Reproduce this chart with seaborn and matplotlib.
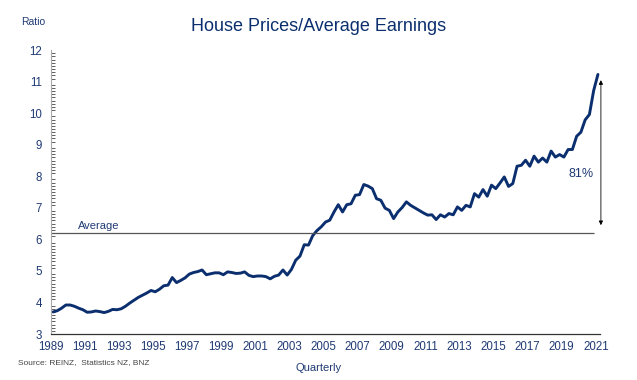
import numpy as np
import pandas as pd
import matplotlib
matplotlib.use("Agg")
import matplotlib.pyplot as plt
from matplotlib.ticker import MultipleLocator
import seaborn as sns

# quarterly house price / average earnings ratio, 1989 - 2021
ratio = [
    3.70, 3.74, 3.82, 3.92,  3.92, 3.88, 3.82, 3.77,   # 1989, 1990
    3.69, 3.70, 3.73, 3.71,  3.68, 3.72, 3.78, 3.77,   # 1991, 1992
    3.80, 3.88, 3.98, 4.07,  4.16, 4.23, 4.30, 4.38,   # 1993, 1994
    4.34, 4.42, 4.53, 4.55,  4.79, 4.63, 4.70, 4.78,   # 1995, 1996
    4.90, 4.95, 4.98, 5.03,  4.88, 4.91, 4.94, 4.94,   # 1997, 1998
    4.88, 4.97, 4.95, 4.92,  4.93, 4.97, 4.86, 4.82,   # 1999, 2000
    4.84, 4.84, 4.82, 4.75,  4.83, 4.87, 5.03, 4.87,   # 2001, 2002
    5.05, 5.34, 5.47, 5.83,  5.82, 6.12, 6.28, 6.40,   # 2003, 2004
    6.55, 6.61, 6.87, 7.10,  6.87, 7.10, 7.13, 7.40,   # 2005, 2006
    7.42, 7.74, 7.69, 7.61,  7.29, 7.24, 6.99, 6.92,   # 2007, 2008
    6.66, 6.87, 7.01, 7.19,  7.08, 7.00, 6.92, 6.84,   # 2009, 2010
    6.77, 6.78, 6.63, 6.78,  6.71, 6.82, 6.78, 7.03,   # 2011, 2012
    6.92, 7.08, 7.03, 7.45,  7.34, 7.58, 7.37, 7.72,   # 2013, 2014
    7.61, 7.79, 7.98, 7.68,  7.77, 8.32, 8.35, 8.51,   # 2015, 2016
    8.32, 8.64, 8.45, 8.58,  8.45, 8.80, 8.61, 8.69,   # 2017, 2018
    8.61, 8.85, 8.85, 9.27,  9.40, 9.79, 9.96, 10.72,  # 2019, 2020
    11.23,                                              # 2021
]
years = 1989.125 + 0.25 * np.arange(len(ratio))
average = 6.2
arrow_low, arrow_high = 6.45, 11.05
year_ticks = list(range(1989, 2022, 2))

df = pd.DataFrame({"year": years, "ratio": ratio})

navy = "#0b2f6e"
text_navy = "#1f3a73"

sns.set_theme(style="white")
plt.rcParams["font.family"] = ["Liberation Sans", "DejaVu Sans"]

fig = plt.figure(figsize=(6.37, 3.80), dpi=100)
ax = fig.add_axes([0.080, 0.121, 0.862, 0.747])

sns.lineplot(data=df, x="year", y="ratio", ax=ax, color=navy, linewidth=2.1)

# long-run average line
ax.hlines(average, 1989, 2020.9, color="#555555", linewidth=0.9)
ax.text(1990.6, average + 0.08, "Average", color=text_navy, fontsize=8,
        ha="left", va="bottom")

# arrow showing distance from average
ax.annotate("", xy=(2021.3, arrow_high), xytext=(2021.3, arrow_low),
            arrowprops=dict(arrowstyle="<|-|>", color="black", lw=0.6,
                            mutation_scale=6, shrinkA=0, shrinkB=0),
            annotation_clip=False)
ax.text(2020.9, 8.06, "81%", color=text_navy, fontsize=9, ha="right", va="center")

ax.set_xlim(1989, 2021.25)
ax.set_ylim(3, 12)
ax.set_xticks(year_ticks)
ax.set_xticklabels([str(y) for y in year_ticks])
ax.yaxis.set_major_locator(MultipleLocator(1))
ax.yaxis.set_minor_locator(MultipleLocator(0.1))

ax.tick_params(axis="y", which="major", direction="inout", length=5, width=0.8,
               color="#333333", labelsize=8.3, labelcolor=text_navy, pad=4)
ax.tick_params(axis="y", which="minor", direction="in", length=3, width=0.6,
               color="#444444", left=True)
ax.tick_params(axis="x", which="major", direction="out", length=3, width=0.8,
               color="#333333", labelsize=8.3, labelcolor=text_navy, pad=2)
ax.tick_params(axis="x", which="minor", bottom=False)

for side in ["top", "right"]:
    ax.spines[side].set_visible(False)
ax.spines["left"].set_color("#aaaaaa")
ax.spines["left"].set_linewidth(0.8)
ax.spines["bottom"].set_color("#333333")
ax.spines["bottom"].set_linewidth(0.9)

ax.set_xlabel("")
ax.set_ylabel("")

fig.text(0.5, 0.930, "House Prices/Average Earnings", color=navy, fontsize=13,
         ha="center", va="center")
fig.text(0.052, 0.942, "Ratio", color=text_navy, fontsize=7.5, ha="center", va="center")
fig.text(0.5, 0.032, "Quarterly", color=text_navy, fontsize=8, ha="center", va="center")
fig.text(0.028, 0.047, "Source: REINZ,  Statistics NZ, BNZ", color="#444444",
         fontsize=6, ha="left", va="center")

fig.savefig("out.png", dpi=100)
